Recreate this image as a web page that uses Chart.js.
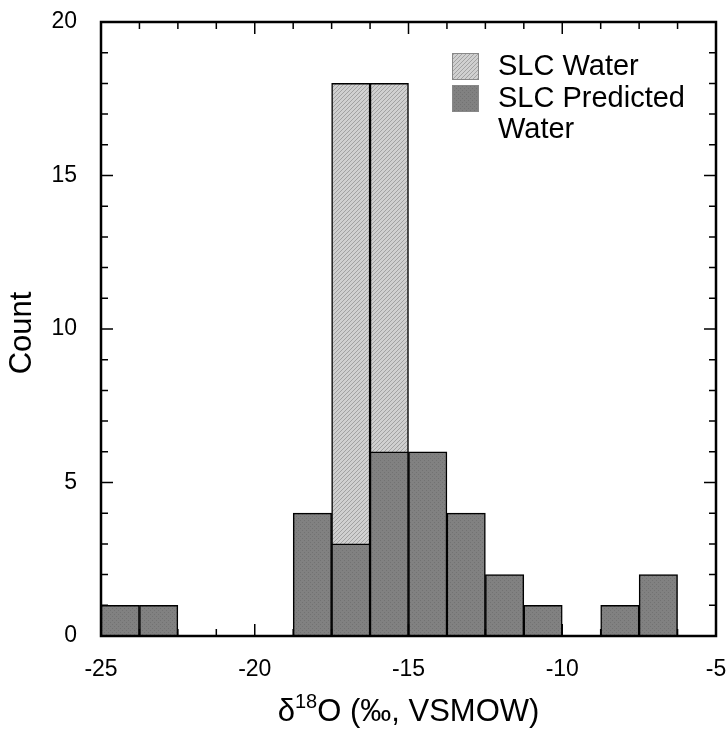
<!DOCTYPE html>
<html>
<head>
<meta charset="utf-8">
<script src="https://cdn.jsdelivr.net/npm/chart.js@4"></script>
<style>
  html, body { margin: 0; padding: 0; background: #fff; }
  #wrap { width: 727px; height: 730px; }
</style>
</head>
<body>
<div id="wrap"><canvas id="myChart" width="727" height="730"></canvas></div>
<script>
  // lower edge of each 1.25 permil bin
  const binStarts = [-25, -23.75, -22.5, -21.25, -20, -18.75, -17.5, -16.25,
                     -15, -13.75, -12.5, -11.25, -10, -8.75, -7.5];
  const binWidth = 1.25;
  const slcWater = [0, 0, 0, 0, 0, 0, 18, 18, 0, 0, 0, 0, 0, 0, 0];
  const slcPredicted = [1, 1, 0, 0, 0, 4, 3, 6, 6, 4, 2, 1, 0, 1, 2];
  const xTicks = [-25, -20, -15, -10, -5];
  const yTicks = [0, 5, 10, 15, 20];
  const seriesNames = ['SLC Water', ['SLC Predicted', 'Water']];

  const FONT = "'Liberation Sans', Arial, sans-serif";

  function makePattern(bg, fg, light) {
    const c = document.createElement('canvas');
    c.width = 4; c.height = 4;
    const g = c.getContext('2d');
    g.fillStyle = bg;
    g.fillRect(0, 0, 4, 4);
    g.fillStyle = fg;
    if (light) {
      for (let i = 0; i < 4; i++) g.fillRect(i, 3 - i, 1, 1);
    } else {
      g.fillRect(0, 0, 1, 1);
      g.fillRect(2, 2, 1, 1);
    }
    return g.createPattern(c, 'repeat');
  }
  const lightFill = makePattern('#d0d0d0', '#a2a2a2', true);
  const darkFill = makePattern('#818181', '#727272', false);

  function points(arr) {
    return binStarts.map((s, i) => ({ x: s + binWidth / 2, y: arr[i] }));
  }

  const framePlugin = {
    id: 'frame',
    afterDraw(chart) {
      const ctx = chart.ctx;
      const a = chart.chartArea;
      const xs = chart.scales.x, ys = chart.scales.y;
      ctx.save();

      // frame + inward ticks on all four sides
      ctx.strokeStyle = '#000';
      ctx.lineWidth = 1.5;
      for (let k = 0; k <= 16; k++) {
        const px = xs.getPixelForValue(-25 + k * binWidth);
        const len = (k % 4 === 0) ? 12 : 7;
        ctx.beginPath();
        ctx.moveTo(px, a.bottom); ctx.lineTo(px, a.bottom - len);
        ctx.moveTo(px, a.top); ctx.lineTo(px, a.top + len);
        ctx.stroke();
      }
      for (let v = 0; v <= 20; v++) {
        const py = ys.getPixelForValue(v);
        const len = (v % 5 === 0) ? 12 : 7;
        ctx.beginPath();
        ctx.moveTo(a.left, py); ctx.lineTo(a.left + len, py);
        ctx.moveTo(a.right, py); ctx.lineTo(a.right - len, py);
        ctx.stroke();
      }
      ctx.lineWidth = 2.5;
      ctx.strokeRect(a.left, a.top, a.right - a.left, a.bottom - a.top);

      ctx.fillStyle = '#000';

      // y title
      ctx.save();
      ctx.translate(22, (a.top + a.bottom) / 2 + 4);
      ctx.rotate(-Math.PI / 2);
      ctx.font = '31px ' + FONT;
      ctx.textAlign = 'center';
      ctx.textBaseline = 'middle';
      ctx.fillText('Count', 0, 0);
      ctx.restore();

      // x title with superscript
      const big = '31px ' + FONT, small = '20px ' + FONT;
      ctx.textBaseline = 'alphabetic';
      ctx.font = big;
      const w1 = ctx.measureText('\u03b4').width;
      const w3 = ctx.measureText('O (\u2030, VSMOW)').width;
      ctx.font = small;
      const w2 = ctx.measureText('18').width;
      let x = (a.left + a.right) / 2 - (w1 + w2 + w3) / 2;
      const base = 721;
      ctx.textAlign = 'left';
      ctx.font = big;
      ctx.fillText('\u03b4', x, base); x += w1;
      ctx.font = small;
      ctx.fillText('18', x, base - 13); x += w2;
      ctx.font = big;
      ctx.fillText('O (\u2030, VSMOW)', x, base);

      // legend inside plot
      const fills = [lightFill, darkFill];
      const sw = [[452, 53], [452, 85]];
      ctx.font = '29px ' + FONT;
      ctx.textBaseline = 'middle';
      let ty = 67;
      seriesNames.forEach((name, i) => {
        ctx.fillStyle = fills[i];
        ctx.fillRect(sw[i][0], sw[i][1], 27, 27);
        ctx.strokeStyle = '#888';
        ctx.lineWidth = 1;
        ctx.strokeRect(sw[i][0] + 0.5, sw[i][1] + 0.5, 26, 26);
        ctx.fillStyle = '#000';
        const lines = Array.isArray(name) ? name : [name];
        if (i === 1) ty = 99;
        lines.forEach(t => { ctx.fillText(t, 498, ty); ty += 31; });
      });
      ctx.restore();
    }
  };

  const config = {
    type: 'bar',
    data: {
      datasets: [{
        label: 'SLC Predicted Water',
        data: points(slcPredicted),
        backgroundColor: darkFill,
        borderColor: '#000',
        borderWidth: 1.5,
        order: 0
      }, {
        label: 'SLC Water',
        data: points(slcWater),
        backgroundColor: lightFill,
        borderColor: '#000',
        borderWidth: 1.5,
        order: 1
      }]
    },
    options: {
      responsive: false,
      animation: false,
      grouped: false,
      barPercentage: 1,
      categoryPercentage: 1,
      layout: { padding: { top: 22, right: 11, left: 0, bottom: 0 } },
      plugins: { legend: { display: false }, tooltip: { enabled: false } },
      scales: {
        x: {
          type: 'linear',
          offset: false,
          min: -25, max: -5,
          afterBuildTicks: s => { s.ticks = xTicks.map(v => ({ value: v })); },
          afterFit: s => { s.height = 94; s.paddingLeft = 0; s.paddingRight = 0; },
          ticks: { color: '#000', font: { family: FONT, size: 23 }, padding: 12, maxRotation: 0 },
          grid: { display: false },
          border: { display: false }
        },
        y: {
          min: 0, max: 20,
          afterBuildTicks: s => { s.ticks = yTicks.map(v => ({ value: v })); },
          afterFit: s => { s.width = 101; s.paddingTop = 0; s.paddingBottom = 0; },
          ticks: { color: '#000', font: { family: FONT, size: 23 }, padding: 16 },
          grid: { display: false },
          border: { display: false }
        }
      }
    },
    plugins: [framePlugin]
  };

  const myChart = new Chart(document.getElementById('myChart'), config);
</script>
</body>
</html>
